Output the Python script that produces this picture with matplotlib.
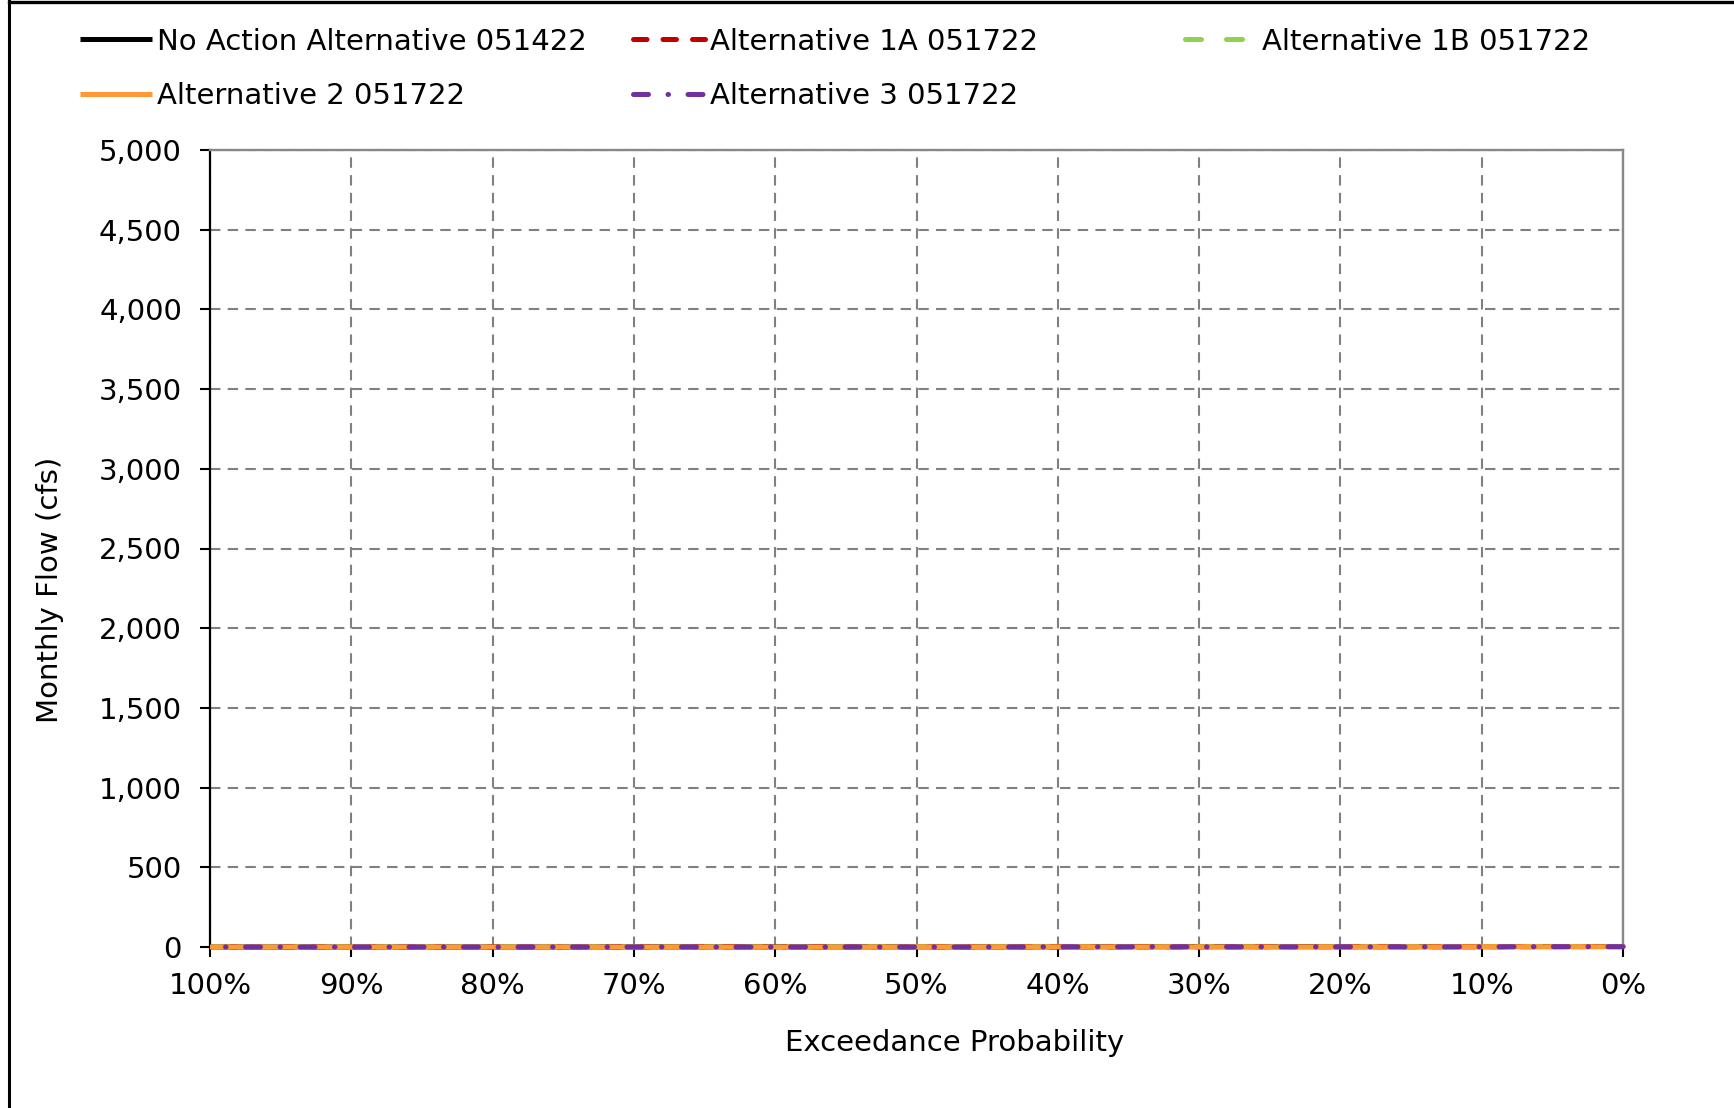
import matplotlib
matplotlib.use('Agg')
import matplotlib.pyplot as plt
from matplotlib.lines import Line2D
from matplotlib.ticker import FuncFormatter

# exceedance probability (%) and monthly flow (cfs) for each run
exceedance = [0, 5, 10, 15, 20, 25, 30, 35, 40, 45, 50, 55, 60, 65, 70, 75, 80, 85, 90, 95, 100]
no_action = [3, 3, 2, 2, 2, 2, 2, 2, 1, 1, 1, 1, 1, 1, 1, 0, 0, 0, 0, 0, 0]
alt_1a = [3, 2, 2, 2, 2, 2, 1, 1, 1, 1, 1, 1, 1, 1, 0, 0, 0, 0, 0, 0, 0]
alt_1b = [2, 2, 2, 2, 1, 1, 1, 1, 1, 1, 1, 1, 0, 0, 0, 0, 0, 0, 0, 0, 0]
alt_2 = [2, 2, 2, 1, 1, 1, 1, 1, 1, 1, 1, 0, 0, 0, 0, 0, 0, 0, 0, 0, 0]
alt_3 = [2, 2, 1, 1, 1, 1, 1, 1, 1, 0, 0, 0, 0, 0, 0, 0, 0, 0, 0, 0, 0]

labels = ['No Action Alternative 051422', 'Alternative 1A 051722', 'Alternative 1B 051722',
          'Alternative 2 051722', 'Alternative 3 051722']
colors = ['#000000', '#C00000', '#92D050', '#FF9933', '#7030A0']
styles = ['-', (0, (2.7, 3.2)), (0, (3.2, 5.0)), '-', (0, (3.0, 3.9, 0.1, 3.9))]

plt.rcParams['font.family'] = 'DejaVu Sans'
fig = plt.figure(figsize=(17.34, 11.08), dpi=100)
ax = fig.add_axes([210 / 1734, 1 - 947 / 1108, 1413 / 1734, 797 / 1108])

series = [no_action, alt_1a, alt_1b, alt_2, alt_3]
handles = []
for vals, lab, col, ls in zip(series, labels, colors, styles):
    ln, = ax.plot(exceedance, vals, color=col, linestyle=ls, linewidth=3.6,
                  dash_capstyle='round', solid_capstyle='butt', label=lab,
                  clip_on=False, zorder=3)
    handles.append(ln)

ax.set_xlim(100, 0)
ax.set_ylim(0, 5000)
ax.set_xticks(range(0, 101, 10))
ax.set_yticks(range(0, 5001, 500))
ax.xaxis.set_major_formatter(FuncFormatter(lambda v, p: f'{v:.0f}%'))
ax.yaxis.set_major_formatter(FuncFormatter(lambda v, p: f'{v:,.0f}'))
ax.tick_params(direction='out', length=7.2, width=1.5, labelsize=21, color='black')
ax.tick_params(axis='y', pad=13)
ax.tick_params(axis='x', pad=11)

ax.grid(True, color='#808080', linestyle=(0, (5, 3.5)), linewidth=1.5)
ax.set_axisbelow(True)
for s in ['left', 'bottom']:
    ax.spines[s].set_color('black')
    ax.spines[s].set_linewidth(1.6)
for s in ['top', 'right']:
    ax.spines[s].set_color('#888888')
    ax.spines[s].set_linewidth(1.7)

ax.set_xlabel('Exceedance Probability', fontsize=21, va='center')
ax.xaxis.set_label_coords(0.527, -0.120)
ax.set_ylabel('Monthly Flow (cfs)', fontsize=21, va='center')
ax.yaxis.set_label_coords(-0.113, 0.448)

# legend in three columns like the original
cols = [([handles[0], handles[3]], 80), ([handles[1], handles[4]], 633), ([handles[2]], 1185)]
for hs, x0 in cols:
    fig.legend(handles=hs, labels=[h.get_label() for h in hs], loc='upper left',
               bbox_to_anchor=(x0 / 1734, 0.975), frameon=False, fontsize=21,
               borderpad=0, borderaxespad=0, handlelength=2.47, handletextpad=0.17,
               labelspacing=0.91)

# black border of the original frame (top and left)
fig.add_artist(Line2D([8.7 / 1734, 8.7 / 1734], [0, 1], transform=fig.transFigure,
                      color='black', linewidth=2.2))
fig.add_artist(Line2D([8.7 / 1734, 1], [1 - 1.7 / 1108, 1 - 1.7 / 1108],
                      transform=fig.transFigure, color='black', linewidth=2.4))

fig.savefig('out.png', dpi=100)
